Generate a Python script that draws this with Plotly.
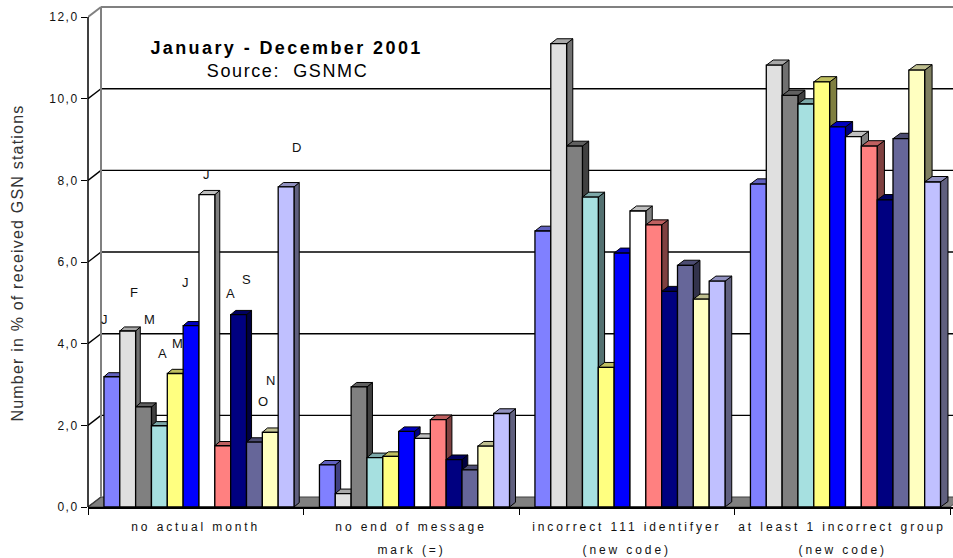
import json
import plotly.graph_objects as go

# ---- data -------------------------------------------------------------
CATEGORIES = [
    "no actual month",
    "no end of message\nmark (=)",
    "incorrect 111 identifyer\n(new code)",
    "at least 1 incorrect group\n(new code)",
]
MONTHS = ["J", "F", "M", "A", "M", "J", "J", "A", "S", "O", "N", "D"]

# percentage of received GSN stations, one list per month (4 categories)
JAN = [3.19, 1.03, 6.76, 7.91]
FEB = [4.31, 0.33, 11.35, 10.82]
MAR = [2.45, 2.94, 8.84, 10.08]
APR = [1.99, 1.21, 7.59, 9.87]
MAY = [3.27, 1.24, 3.42, 10.41]
JUN = [4.44, 1.85, 6.22, 9.31]
JUL = [7.65, 1.68, 7.25, 9.07]
AUG = [1.50, 2.14, 6.91, 8.84]
SEP = [4.71, 1.16, 5.28, 7.52]
OCT = [1.59, 0.91, 5.92, 9.02]
NOV = [1.83, 1.49, 5.09, 10.70]
DEC = [7.84, 2.29, 5.53, 7.96]
SERIES = [JAN, FEB, MAR, APR, MAY, JUN, JUL, AUG, SEP, OCT, NOV, DEC]

Y_TICKS = [0, 2, 4, 6, 8, 10, 12]

# ---- styling ------------------------------------------------------------
COLORS = ["#8080FF", "#E0E0E0", "#808080", "#A6E0E0", "#FFFF80", "#0000FF",
          "#FFFFFF", "#FF8080", "#000080", "#666699", "#FFFFC0", "#C0C0FF"]
FONT = "Liberation Sans, Arial, sans-serif"

W, H = 953, 558
M_L, M_R, M_T, M_B = 88, 0, 5, 51
X_UNIT_PX = 215.5          # pixels per category
Y_UNIT_PX = 40.83          # pixels per percent
PLOT_W = W - M_L - M_R
PLOT_H = H - M_T - M_B
X_RANGE = [-0.5, -0.5 + PLOT_W / X_UNIT_PX]
Y_RANGE = [0, PLOT_H / Y_UNIT_PX]

GROUP_START = -0.426       # left edge of first bar relative to category centre
BAR_W = 0.0735             # width of one bar in category units

WALL_DX, WALL_DY = 13 / X_UNIT_PX, 10 / Y_UNIT_PX   # depth of walls / floor


def bar_depth(x):
    """Depth offset (x, y in data units) of a bar's top/side faces; grows to the right."""
    t = (x - X_RANGE[0]) / 4.0
    return (4.5 + 3.0 * t) / X_UNIT_PX, (4.0 + 1.5 * t) / Y_UNIT_PX


def shade(hex_color, f):
    h = hex_color.lstrip("#")
    r, g, b = (int(h[i:i + 2], 16) for i in (0, 2, 4))
    return "#%02X%02X%02X" % (int(r * f), int(g * f), int(b * f))


fig = go.Figure()
cat_pos = list(range(len(CATEGORIES)))

# front faces of the columns
for i, (name, vals, col) in enumerate(zip(MONTHS, SERIES, COLORS)):
    fig.add_trace(go.Bar(
        x=cat_pos, y=vals, width=BAR_W, offset=GROUP_START + i * BAR_W,
        marker=dict(color=col, line=dict(color="black", width=1.3)),
        name=name, showlegend=False, hoverinfo="skip",
    ))

shapes = []
xl0 = X_RANGE[0]
x_far = X_RANGE[1] + 0.2

# floor
shapes.append(dict(
    type="path", xref="x", yref="y", layer="below",
    path=f"M {xl0},0 L 3.5,0 L {3.5 + WALL_DX},{WALL_DY} L {xl0 + WALL_DX},{WALL_DY} Z",
    fillcolor="#808080", line=dict(color="#404040", width=1),
))
# back-wall gridlines and left-wall tick diagonals
for v in Y_TICKS:
    top = v == Y_TICKS[-1]
    col = "#808080" if top else "black"
    wid = 2 if top else 1.4
    if v > 0:
        shapes.append(dict(type="line", xref="x", yref="y", layer="below",
                           x0=xl0 + WALL_DX, x1=x_far, y0=v + WALL_DY, y1=v + WALL_DY,
                           line=dict(color=col, width=wid)))
    shapes.append(dict(type="line", xref="x", yref="y", layer="below",
                       x0=xl0, x1=xl0 + WALL_DX, y0=v, y1=v + WALL_DY,
                       line=dict(color="#404040" if v == 0 else col, width=wid)))
# back-wall left edge
shapes.append(dict(type="line", xref="x", yref="y", layer="below",
                   x0=xl0 + WALL_DX, x1=xl0 + WALL_DX, y0=WALL_DY, y1=Y_TICKS[-1] + WALL_DY,
                   line=dict(color="#808080", width=2)))

# side and top faces of each column, drawn left to right
for k in cat_pos:
    for i, (vals, col) in enumerate(zip(SERIES, COLORS)):
        v = vals[k]
        xl = k + GROUP_START + i * BAR_W
        xr = xl + BAR_W
        dx, dy = bar_depth(xr)
        shapes.append(dict(
            type="path", xref="x", yref="y", layer="below",
            path=f"M {xr},0 L {xr},{v} L {xr + dx},{v + dy} L {xr + dx},{dy} Z",
            fillcolor=shade(col, 0.5), line=dict(color="black", width=1),
        ))
        shapes.append(dict(
            type="path", xref="x", yref="y", layer="below",
            path=f"M {xl},{v} L {xr},{v} L {xr + dx},{v + dy} L {xl + dx},{v + dy} Z",
            fillcolor=shade(col, 0.75), line=dict(color="black", width=1),
        ))

# front value axis line
shapes.append(dict(type="line", xref="paper", yref="y", layer="above",
                   x0=0, x1=0, y0=0, y1=Y_TICKS[-1], line=dict(color="black", width=1.5)))

annotations = []
spacing = {}


def add_ann(letter_spacing=None, **kw):
    if letter_spacing is not None:
        spacing[str(len(annotations))] = letter_spacing
    annotations.append(dict(showarrow=False, **kw))


# month letters above the first group
LABEL_XSHIFT = [-7, 6, 6, 3, 2, -6, 0, 8, 8, 8.5, 0, 10]
LABEL_YSHIFT = [57, 38.5, 87, 72, 29.5, 43, 20.6, 152, 35, 40.5, 52, 39.5]
for i, (name, vals) in enumerate(zip(MONTHS, SERIES)):
    add_ann(text=name, x=GROUP_START + (i + 0.5) * BAR_W, y=vals[0], xref="x", yref="y",
            xanchor="center", yanchor="middle",
            xshift=LABEL_XSHIFT[i], yshift=LABEL_YSHIFT[i],
            font=dict(family=FONT, size=13, color="#111111"))

# category labels (two lines each, widely spaced)
for k, cat in enumerate(CATEGORIES):
    for j, line in enumerate(cat.split("\n")):
        add_ann(letter_spacing=2.9, text=line, x=k, y=0, xref="x", yref="paper",
                xanchor="center", yanchor="middle", yshift=-(20 + 23 * j),
                font=dict(family=FONT, size=12, color="#111111"))

# titles
add_ann(letter_spacing=2.4, text="<b>January - December 2001</b>", x=0, y=1,
        xref="paper", yref="paper", xanchor="center", yanchor="middle",
        xshift=198.5, yshift=-43, font=dict(family=FONT, size=18, color="black"))
add_ann(letter_spacing=1.6, text="Source:\u00a0 GSNMC", x=0, y=1,
        xref="paper", yref="paper", xanchor="center", yanchor="middle",
        xshift=199.5, yshift=-66, font=dict(family=FONT, size=18, color="black"))
add_ann(letter_spacing=1.2, text="Number in % of received GSN stations", x=0, y=0,
        xref="paper", yref="paper", xanchor="center", yanchor="middle", textangle=-90,
        xshift=-71, yshift=244, font=dict(family=FONT, size=16, color="#333333"))

fig.update_layout(
    width=W, height=H, margin=dict(l=M_L, r=M_R, t=M_T, b=M_B),
    paper_bgcolor="white", plot_bgcolor="white",
    barmode="overlay", separators=",.",
    shapes=shapes, annotations=annotations,
    xaxis=dict(range=X_RANGE, showgrid=False, zeroline=False, showticklabels=False,
               tickmode="array", tickvals=[c - 0.5 for c in cat_pos] + [cat_pos[-1] + 0.5],
               ticks="outside", ticklen=6, tickwidth=1.2, tickcolor="black",
               showline=True, linecolor="black", linewidth=2),
    yaxis=dict(range=Y_RANGE, showgrid=False, zeroline=False, showline=False,
               tickmode="array", tickvals=Y_TICKS, tickformat=".1f",
               ticks="outside", ticklen=6, tickwidth=1.2, tickcolor="black",
               tickfont=dict(family=FONT, size=12, color="#111111")),
)

post = """
var gd = document.getElementById('{plot_id}');
var spacing = %s;
gd.querySelectorAll('g.annotation').forEach(function (g) {
  var k = g.getAttribute('data-index');
  if (spacing[k] !== undefined) {
    g.querySelectorAll('text').forEach(function (t) { t.style.letterSpacing = spacing[k] + 'px'; });
  }
});
gd.querySelectorAll('.ytick text').forEach(function (t) { t.style.letterSpacing = '1.5px'; });
""" % json.dumps(spacing)

fig.write_html("out.html", post_script=post)
